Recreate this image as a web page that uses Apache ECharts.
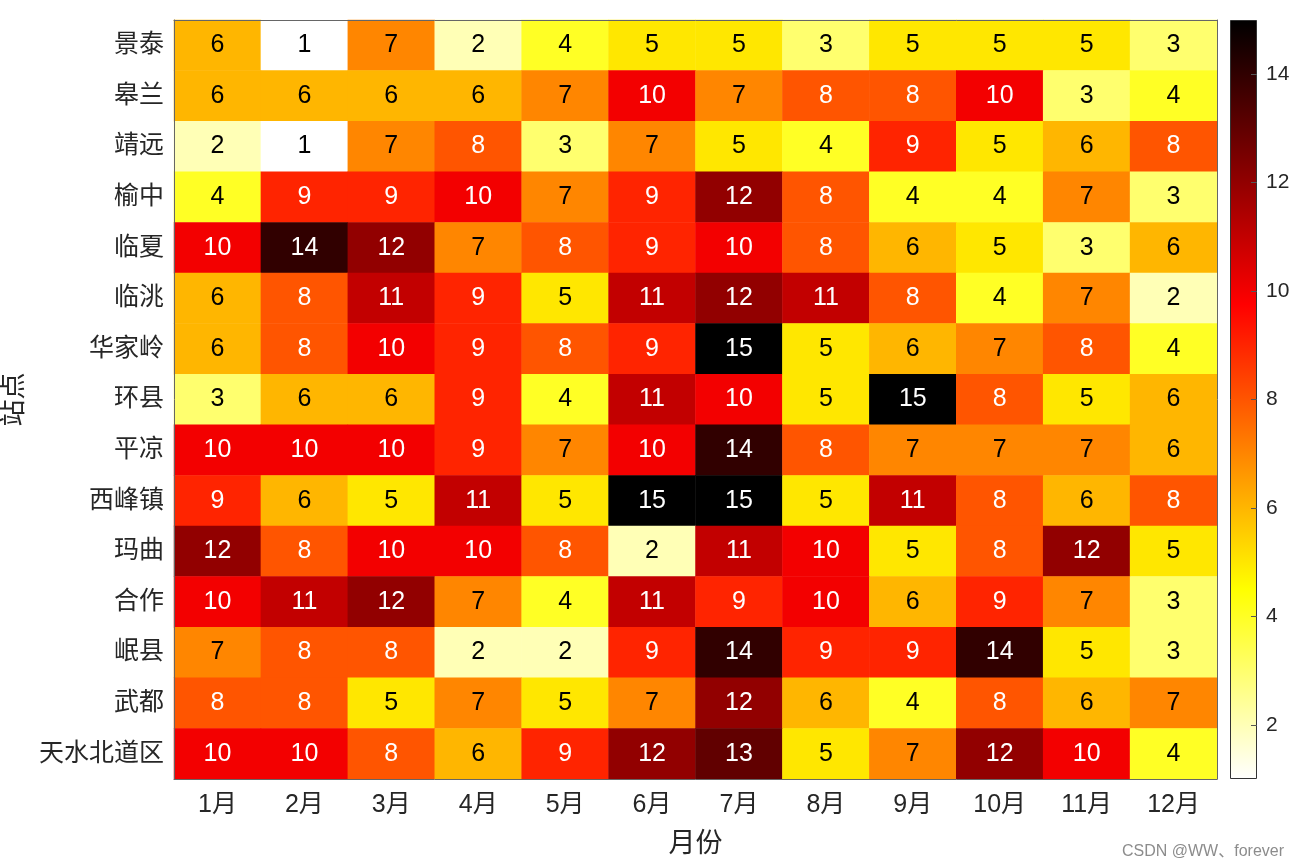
<!DOCTYPE html>
<html>
<head>
<meta charset="utf-8">
<script src="https://cdn.jsdelivr.net/npm/echarts@6/dist/echarts.min.js"></script>
<style>html,body{margin:0;padding:0;background:#fff;}#c{width:1300px;height:868px;}</style>
</head>
<body>
<div id="c"></div>
<script>
const months = ['1月','2月','3月','4月','5月','6月','7月','8月','9月','10月','11月','12月'];
const stations = ['景泰','皋兰','靖远','榆中','临夏','临洮','华家岭','环县','平凉','西峰镇','玛曲','合作','岷县','武都','天水北道区'];
const counts = [
  [6,1,7,2,4,5,5,3,5,5,5,3],
  [6,6,6,6,7,10,7,8,8,10,3,4],
  [2,1,7,8,3,7,5,4,9,5,6,8],
  [4,9,9,10,7,9,12,8,4,4,7,3],
  [10,14,12,7,8,9,10,8,6,5,3,6],
  [6,8,11,9,5,11,12,11,8,4,7,2],
  [6,8,10,9,8,9,15,5,6,7,8,4],
  [3,6,6,9,4,11,10,5,15,8,5,6],
  [10,10,10,9,7,10,14,8,7,7,7,6],
  [9,6,5,11,5,15,15,5,11,8,6,8],
  [12,8,10,10,8,2,11,10,5,8,12,5],
  [10,11,12,7,4,11,9,10,6,9,7,3],
  [7,8,8,2,2,9,14,9,9,14,5,3],
  [8,8,5,7,5,7,12,6,4,8,6,7],
  [10,10,8,6,9,12,13,5,7,12,10,4]
];
const colorTicks = [2,4,6,8,10,12,14];
const cMin = 1, cMax = 15;

const FONT = "'Liberation Sans', 'Noto Sans CJK SC', sans-serif";
const hotColors = ['#ffffff','#ffff80','#ffff00','#ffaa00','#ff5500','#ff0000','#aa0000','#550000','#000000'];

const data = [];
counts.forEach((row, r) => {
  row.forEach((v, c) => {
    data.push({value: [c, r, v], label: {color: v >= 8 ? '#ffffff' : '#000000'}});
  });
});

const chart = echarts.init(document.getElementById('c'));
const axisLabelStyle = {color: '#262626', fontSize: 25, fontFamily: FONT};
chart.setOption({
  animation: false,
  backgroundColor: '#ffffff',
  grid: [
    {left: 174, top: 20, width: 1043, height: 759, outerBoundsMode: 'none', containLabel: false},
    {left: 1230, top: 20, width: 27, height: 759, outerBoundsMode: 'none', containLabel: false}
  ],
  xAxis: [
    {type: 'category', data: months, gridIndex: 0, position: 'bottom', z: 10,
     axisLine: {show: true, lineStyle: {color: '#666', width: 1}},
     axisTick: {show: false}, splitLine: {show: false},
     axisLabel: Object.assign({margin: 14}, axisLabelStyle),
     name: '月份', nameLocation: 'middle', nameGap: 52,
     nameTextStyle: {color: '#262626', fontSize: 27, fontFamily: FONT}},
    {type: 'category', data: months, gridIndex: 0, position: 'top', z: 10,
     axisLine: {show: true, lineStyle: {color: '#666', width: 1}},
     axisTick: {show: false}, axisLabel: {show: false}},
    {type: 'category', data: ['cb'], gridIndex: 1, show: false}
  ],
  yAxis: [
    {type: 'category', data: stations, inverse: true, gridIndex: 0, position: 'left', z: 10,
     axisLine: {show: true, lineStyle: {color: '#666', width: 1}},
     axisTick: {show: false}, splitLine: {show: false},
     axisLabel: Object.assign({margin: 10}, axisLabelStyle),
     name: '站点', nameLocation: 'middle', nameGap: 143, nameRotate: 90,
     nameTextStyle: {color: '#262626', fontSize: 27, fontFamily: FONT}},
    {type: 'category', data: stations, inverse: true, gridIndex: 0, position: 'right', z: 10,
     axisLine: {show: true, lineStyle: {color: '#666', width: 1}},
     axisTick: {show: false}, axisLabel: {show: false}},
    {type: 'value', gridIndex: 1, min: cMin, max: cMax, position: 'right', z: 10,
     axisLine: {show: false},
     splitLine: {show: false},
     axisTick: {show: true, inside: true, length: 6, customValues: colorTicks, lineStyle: {color: '#555'}},
     axisLabel: {customValues: colorTicks, color: '#262626', fontSize: 21, fontFamily: FONT, margin: 9}}
  ],
  visualMap: {
    show: false, min: cMin, max: cMax, seriesIndex: 0, dimension: 2,
    inRange: {color: hotColors}
  },
  series: [
    {type: 'heatmap', xAxisIndex: 0, yAxisIndex: 0, data: data,
     label: {show: true, fontSize: 25, fontFamily: FONT, formatter: p => p.value[2]},
     itemStyle: {borderWidth: 0},
     emphasis: {disabled: true}},
    {type: 'bar', xAxisIndex: 2, yAxisIndex: 2, stack: 'cb', barWidth: '100%',
     data: [cMin], itemStyle: {color: 'rgba(0,0,0,0)'}, silent: true},
    {type: 'bar', xAxisIndex: 2, yAxisIndex: 2, stack: 'cb', barWidth: '100%',
     data: [cMax - cMin], silent: true,
     itemStyle: {
       borderColor: '#333', borderWidth: 1,
       color: new echarts.graphic.LinearGradient(0, 0, 0, 1, [
         {offset: 0, color: '#000000'},
         {offset: 0.375, color: '#ff0000'},
         {offset: 0.75, color: '#ffff00'},
         {offset: 1, color: '#ffffff'}
       ])
     }}
  ],
  graphic: [
    {type: 'text', right: 16, bottom: 8,
     style: {text: 'CSDN @WW、forever', fill: '#8c8c8c', fontSize: 16, fontFamily: FONT}}
  ]
});
</script>
</body>
</html>
